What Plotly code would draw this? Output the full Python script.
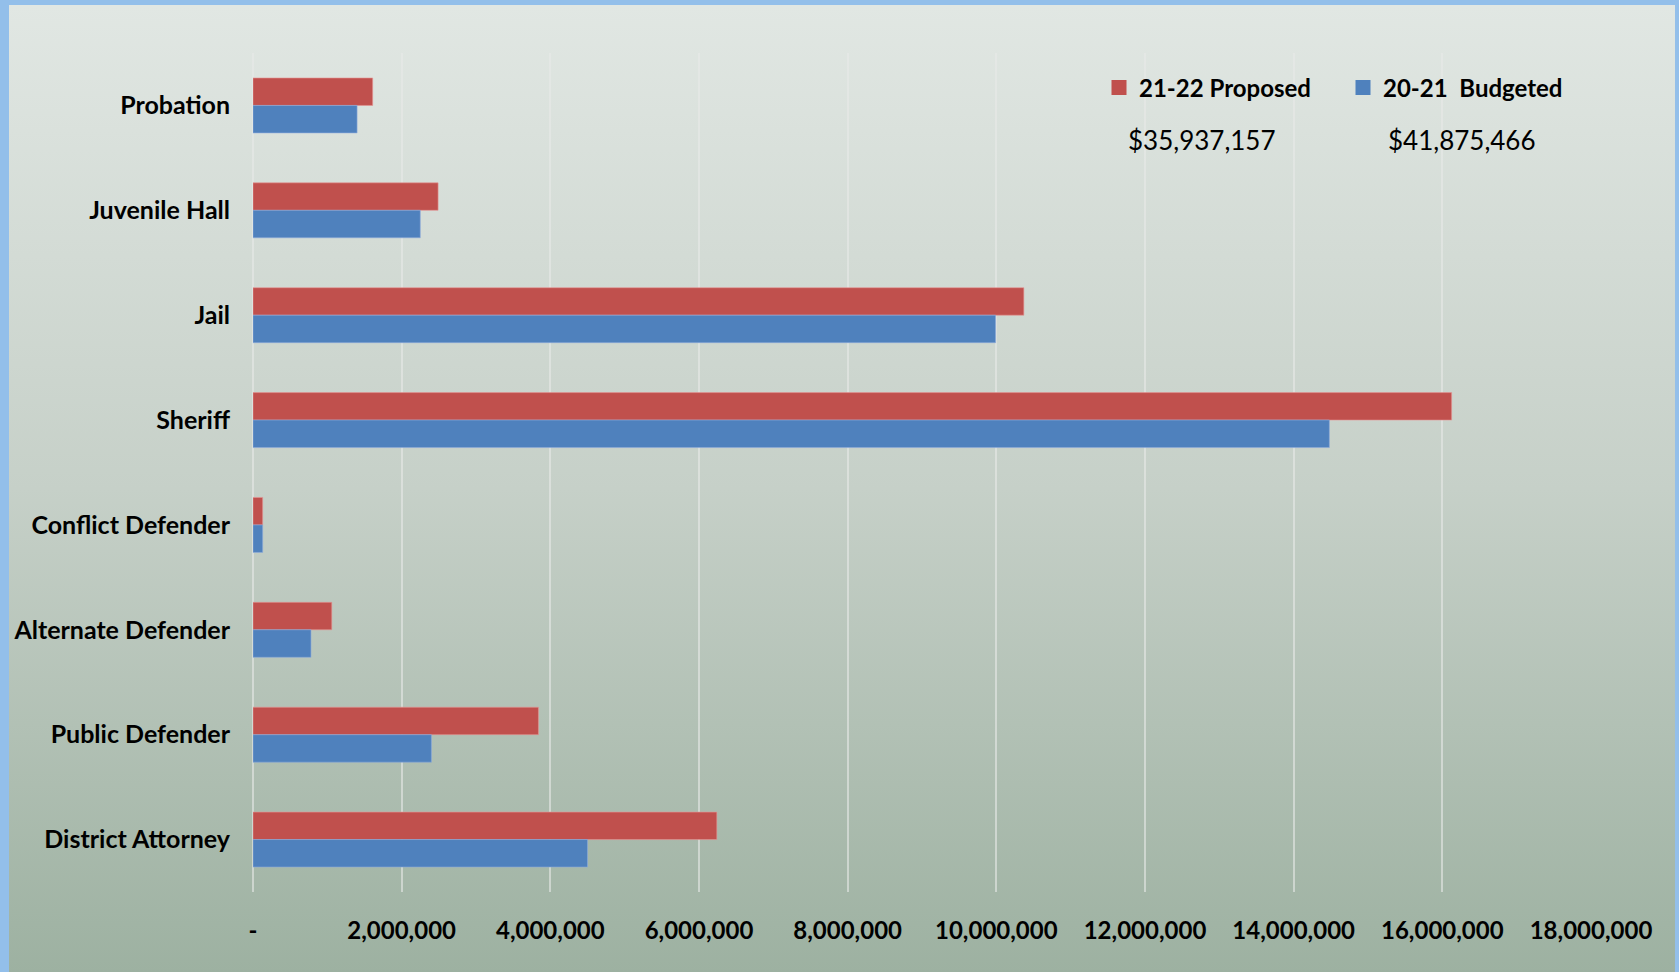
import base64
import plotly.graph_objects as go

categories = ["Probation", "Juvenile Hall", "Jail", "Sheriff", "Conflict Defender",
              "Alternate Defender", "Public Defender", "District Attorney"]
proposed_21_22 = [1610000, 2490000, 10370000, 16125000, 130000, 1060000, 3840000, 6240000]
budgeted_20_21 = [1400000, 2250000, 9990000, 14480000, 130000, 780000, 2400000, 4500000]
series_names = ["21-22 Proposed", "20-21\u00a0 Budgeted"]
series_colors = ["#C0504D", "#4F81BD"]
totals = ["$35,937,157", "$41,875,466"]
tick_vals = [0, 2000000, 4000000, 6000000, 8000000, 10000000, 12000000, 14000000, 16000000, 18000000]
tick_text = ["-", "2,000,000", "4,000,000", "6,000,000", "8,000,000", "10,000,000",
             "12,000,000", "14,000,000", "16,000,000", "18,000,000"]

W, H = 1679, 972
L, R, T, B = 253, 1591, 53, 892  # plot area pixel box

def px_x(p):
    return (p - L) / (R - L)

def px_y(p):
    return (B - p) / (B - T)

svg = ('<svg xmlns="http://www.w3.org/2000/svg" width="100" height="100" preserveAspectRatio="none">'
       '<defs><linearGradient id="g" x1="0" y1="0" x2="0" y2="1">'
       '<stop offset="0" stop-color="#e1e7e3"/>'
       '<stop offset="0.5" stop-color="#c6d0c8"/>'
       '<stop offset="1" stop-color="#9db1a1"/>'
       '</linearGradient></defs>'
       '<rect width="100" height="100" fill="url(#g)"/></svg>')
src = "data:image/svg+xml;base64," + base64.b64encode(svg.encode()).decode()

FAM = "Lato, 'Open Sans', sans-serif"
font_cat = dict(family=FAM, size=25, color="#000000", weight="bold")
font_tick = dict(family=FAM, size=24, color="#000000", weight="bold")
font_leg = dict(family=FAM, size=24, color="#000000", weight="bold")
font_tot = dict(family=FAM, size=26, color="#000000", weight="normal")

fig = go.Figure()
fig.add_trace(go.Bar(y=categories, x=proposed_21_22, orientation="h", name=series_names[0],
                     showlegend=False, legendgroup="p",
                     marker=dict(color=series_colors[0], line=dict(color="rgba(230,150,150,0.6)", width=1))))
fig.add_trace(go.Bar(y=categories, x=budgeted_20_21, orientation="h", name=series_names[1],
                     showlegend=False, legendgroup="b",
                     marker=dict(color=series_colors[1], line=dict(color="rgba(140,170,220,0.6)", width=1))))
# legend entries with larger square swatches
for nm, col, grp in zip(series_names, series_colors, ["p", "b"]):
    fig.add_trace(go.Scatter(x=[None], y=[None], mode="markers", name=nm, legendgroup=grp,
                             marker=dict(symbol="square", size=15, color=col), hoverinfo="skip"))

fig.update_layout(
    width=W, height=H,
    margin=dict(l=L, r=W - R, t=T, b=H - B, pad=0),
    paper_bgcolor="#93bfea",
    plot_bgcolor="rgba(0,0,0,0)",
    barmode="group", bargap=0.476, bargroupgap=0,
    font=font_cat,
    showlegend=True,
    legend=dict(orientation="h", x=px_x(1099), y=px_y(88), xanchor="left", yanchor="middle",
                bgcolor="rgba(0,0,0,0)", font=font_leg, itemwidth=30, entrywidth=199,
                traceorder="normal", itemsizing="trace"),
    images=[dict(source=src, xref="paper", yref="paper",
                 x=px_x(9), y=px_y(5), sizex=px_x(1675) - px_x(9), sizey=px_y(5) - px_y(H),
                 xanchor="left", yanchor="top", sizing="stretch", layer="below")],
    annotations=[
        dict(text=totals[0], x=px_x(1202), y=px_y(140), xref="paper", yref="paper",
             showarrow=False, xanchor="center", yanchor="middle", font=font_tot),
        dict(text=totals[1], x=px_x(1462), y=px_y(140), xref="paper", yref="paper",
             showarrow=False, xanchor="center", yanchor="middle", font=font_tot),
    ],
)

fig.update_xaxes(range=[0, 18000000], tickvals=tick_vals, ticktext=tick_text,
                 showgrid=True, gridcolor="rgba(232,234,232,0.6)", gridwidth=2,
                 zeroline=True, zerolinecolor="rgba(232,234,232,0.6)", zerolinewidth=2,
                 showline=False, ticks="", ticklabelstandoff=22, tickfont=font_tick, fixedrange=True)
fig.update_yaxes(autorange="reversed", showgrid=False, zeroline=False, showline=False,
                 ticks="", ticklabelstandoff=22, tickfont=font_cat, fixedrange=True)

fig.write_html("out.html", config={"displayModeBar": False},
               post_script="document.body.style.margin='0';document.body.style.background='#93bfea';")
